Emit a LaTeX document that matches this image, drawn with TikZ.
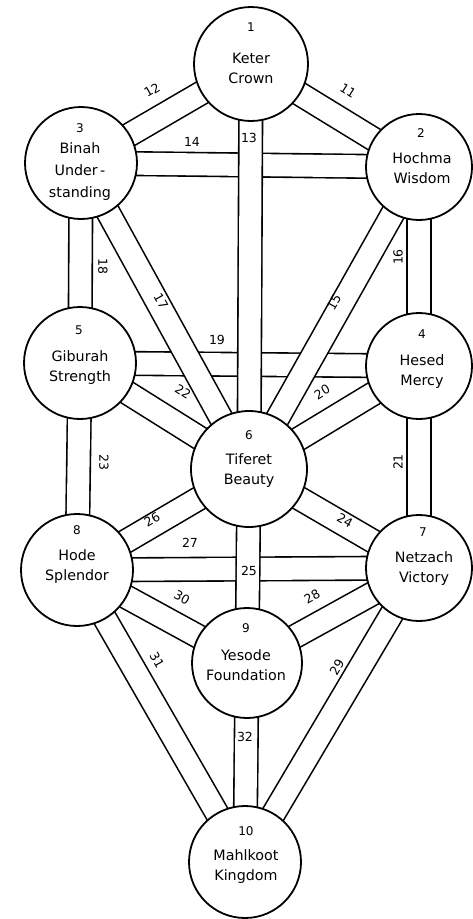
\documentclass[tikz,border=0pt]{standalone}
\usepackage{fontspec}
\setmainfont{DejaVu Sans}
\pgfdeclarelayer{bg}
\pgfsetlayers{bg,main}
\begin{document}
\begin{tikzpicture}[x=1pt,y=-1pt,
  sef/.style={circle,draw,line width=1.8pt,fill=white,inner sep=0pt},
  band/.style={line width=1.6pt,double=white,double distance=22pt},
  num/.style={inner sep=0pt,font=\fontsize{12}{14}\selectfont},
  nm/.style={inner sep=0pt,align=center,font=\fontsize{14.3}{20}\selectfont},
  plab/.style={inner sep=0pt,font=\fontsize{12.5}{14}\selectfont}]
\useasboundingbox (0,0) rectangle (472,919);
% sefirot
\node[sef,minimum size=114pt] (s1) at (251,64) {};
\node[sef,minimum size=106pt] (s2) at (419,167) {};
\node[sef,minimum size=112pt] (s3) at (81,163) {};
\node[sef,minimum size=106pt] (s4) at (419,366) {};
\node[sef,minimum size=112pt] (s5) at (80,363) {};
\node[sef,minimum size=116pt] (s6) at (249,469) {};
\node[sef,minimum size=106pt] (s7) at (419,568) {};
\node[sef,minimum size=112pt] (s8) at (77,570) {};
\node[sef,minimum size=110pt] (s9) at (247,663) {};
\node[sef,minimum size=112pt] (s10) at (245,862) {};
% texts
\node[num] (n1) at (251,27) {1};
\node[nm] (t1) at (251,68) {Keter\\Crown};
\node[num] (n2) at (421,133) {2};
\node[nm] (t2) at (422,168) {Hochma\\Wisdom};
\node[num] (n3) at (80,128) {3};
\node[nm,font=\fontsize{14.3}{22}\selectfont] (t3) at (80,172) {Binah\\Under\,-\\standing};
\node[num] (n5) at (79,330) {5};
\node[nm] (t5) at (80,368) {Giburah\\Strength};
\node[num] (n4) at (422,334) {4};
\node[nm] (t4) at (422,372) {Hesed\\Mercy};
\node[num] (n6) at (249,435) {6};
\node[nm] (t6) at (249,471) {Tiferet\\Beauty};
\node[num] (n8) at (77,530) {8};
\node[nm] (t8) at (77,567) {Hode\\Splendor};
\node[num] (n7) at (423,532) {7};
\node[nm] (t7) at (424,569) {Netzach\\Victory};
\node[num] (n9) at (246,628) {9};
\node[nm] (t9) at (246,665) {Yesode\\Foundation};
\node[num] (n10) at (246,831) {10};
\node[nm] (t10) at (246,867) {Mahlkoot\\Kingdom};
% paths (bands)
\begin{pgfonlayer}{bg}
\draw[band] (s3.center) -- (s2.center);   % 14
\draw[band] (s5.center) -- (s4.center);   % 19
\draw[band] (s8.center) -- (s7.center);   % 27
\draw[band] (s1.center) -- (s2.center);   % 11
\draw[band] (s1.center) -- (s3.center);   % 12
\draw[band] (s2.center) -- (s4.center);   % 16
\draw[band] (s3.center) -- (s5.center);   % 18
\draw[band] (s4.center) -- (s7.center);   % 21
\draw[band] (s5.center) -- (s8.center);   % 23
\draw[band] (s5.center) -- (s6.center);   % 22
\draw[band] (s4.center) -- (s6.center);   % 20
\draw[band] (s3.center) -- (s6.center);   % 17
\draw[band] (s2.center) -- (s6.center);   % 15
\draw[band] (s8.center) -- (s6.center);   % 26
\draw[band] (s7.center) -- (s6.center);   % 24
\draw[band] (s8.center) -- (s9.center);   % 30
\draw[band] (s7.center) -- (s9.center);   % 28
\draw[band] (s8.center) -- (s10.center);  % 31
\draw[band] (s7.center) -- (s10.center);  % 29
\draw[band] (s1.center) -- (s6.center);   % 13
\draw[band] (s6.center) -- (s9.center);   % 25
\draw[band] (s9.center) -- (s10.center);  % 32
\end{pgfonlayer}
% path numbers
\node[plab,rotate=-32] (p11) at (348,91) {11};
\node[plab,rotate=30] (p12) at (152,90) {12};
\node[plab] (p13) at (249,138) {13};
\node[plab] (p14) at (192,142) {14};
\node[plab,rotate=61] (p15) at (334,302) {15};
\node[plab,rotate=90] (p16) at (398,257) {16};
\node[plab,rotate=-61] (p17) at (161,301) {17};
\node[plab,rotate=-90] (p18) at (103,266) {18};
\node[plab] (p19) at (217,340) {19};
\node[plab,rotate=31] (p20) at (322,392) {20};
\node[plab,rotate=90] (p21) at (398,462) {21};
\node[plab,rotate=-32] (p22) at (183,392) {22};
\node[plab,rotate=-90] (p23) at (104,462) {23};
\node[plab,rotate=-30] (p24) at (345,520) {24};
\node[plab] (p25) at (249,571) {25};
\node[plab,rotate=30] (p26) at (152,520) {26};
\node[plab] (p27) at (190,543) {27};
\node[plab,rotate=30] (p28) at (312,597) {28};
\node[plab,rotate=60] (p29) at (337,667) {29};
\node[plab,rotate=-30] (p30) at (182,598) {30};
\node[plab,rotate=-60] (p31) at (157,660) {31};
\node[plab] (p32) at (245,737) {32};
\end{tikzpicture}
\end{document}
